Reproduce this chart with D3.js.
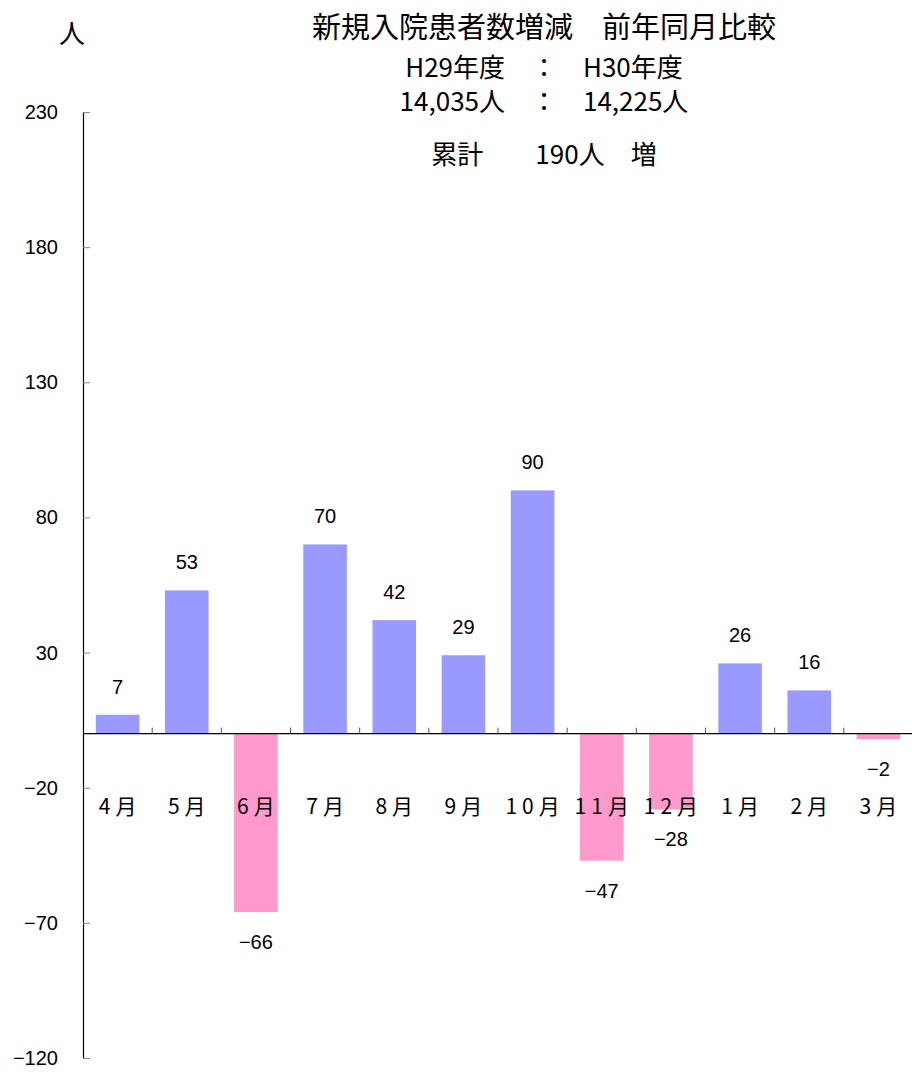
<!DOCTYPE html>
<html><head><meta charset="utf-8">
<script src="https://cdn.jsdelivr.net/npm/d3@7"></script>
<style>body{margin:0;background:#fff}svg{display:block}text{font-family:"Noto Sans CJK JP","Noto Sans",sans-serif;fill:#000}.num{font-family:"Liberation Sans","Noto Sans CJK JP",sans-serif}</style>
</head><body><svg id="c" width="912" height="1072"></svg>
<script>
const months = ["4月","5月","6月","7月","8月","9月","10月","11月","12月","1月","2月","3月"];
const diffs = [7, 53, -66, 70, 42, 29, 90, -47, -28, 26, 16, -2];
const yTicks = [-120, -70, -20, 30, 80, 130, 180, 230];
const titleLines = ["新規入院患者数増減　前年同月比較","H29年度　：　H30年度","14,035人　：　14,225人","累計　　190人　増"];
const unitLabel = "人";

const svg = d3.select("#c");
const x = d3.scaleBand().domain(months).range([83, 913]).paddingInner(0.37).paddingOuter(0.185);
const y = d3.scaleLinear().domain([-120, 230]).range([1058, 112]);

// bars
svg.append("g").selectAll("rect").data(diffs).join("rect")
  .attr("x", (d,i) => x(months[i]))
  .attr("width", x.bandwidth())
  .attr("y", d => y(Math.max(0,d)))
  .attr("height", d => Math.abs(y(d) - y(0)))
  .attr("fill", d => d >= 0 ? "#9999FF" : "#FF99CC");

// y axis
const yAxis = d3.axisRight(y).tickValues(yTicks).tickSize(7).tickFormat("");
const ga = svg.append("g").attr("transform","translate(83,0)").call(yAxis);
ga.select(".domain").attr("stroke","#000").attr("stroke-width",1.2).attr("d","M0.5,112V1058");
ga.selectAll(".tick line").attr("stroke","#888");
svg.append("g").selectAll("text").data(yTicks).join("text")
  .attr("class","num")
  .attr("x", 58).attr("y", d => y(d)).attr("dy","0.35em")
  .attr("text-anchor","end").attr("font-size",20)
  .text(d => d < 0 ? "−" + Math.abs(d) : d);

// zero line with category ticks
const bounds = months.map(m => x(m) - x.step()*x.paddingInner()/2).slice(1).concat([913]);
svg.append("line").attr("x1",83).attr("x2",912).attr("y1",y(0)).attr("y2",y(0)).attr("stroke","#000").attr("stroke-width",1.2);
svg.append("g").selectAll("line").data(bounds).join("line")
  .attr("x1", d=>d).attr("x2", d=>d).attr("y1", y(0)).attr("y2", y(0)-6)
  .attr("stroke","#555");

// month labels
svg.append("g").selectAll("text").data(months).join("text")
  .attr("x", m => x(m) + x.bandwidth()/2 + 2.5).attr("y", y(0)+73).attr("dy","0.35em")
  .attr("text-anchor","middle").attr("font-size",21).attr("letter-spacing",5).text(m => m);

// value labels
svg.append("g").selectAll("text").data(diffs).join("text")
  .attr("class","num")
  .attr("x", (d,i) => x(months[i]) + x.bandwidth()/2)
  .attr("y", d => d >= 0 ? y(d) - 28 : y(d) + 30).attr("dy","0.35em")
  .attr("text-anchor","middle").attr("font-size",20)
  .text(d => d < 0 ? "−" + Math.abs(d) : d);

// titles
const ty = [28, 68, 102, 155];
const ts = [29, 26, 26, 26];
svg.append("g").selectAll("text").data(titleLines).join("text")
  .attr("x", 544).attr("y", (d,i)=>ty[i]).attr("dy","0.35em")
  .attr("text-anchor","middle").attr("font-size",(d,i)=>ts[i]).text(d=>d);
svg.append("text").attr("x",72).attr("y",34).attr("dy","0.35em").attr("text-anchor","middle").attr("font-size",26).text(unitLabel);
</script></body></html>
